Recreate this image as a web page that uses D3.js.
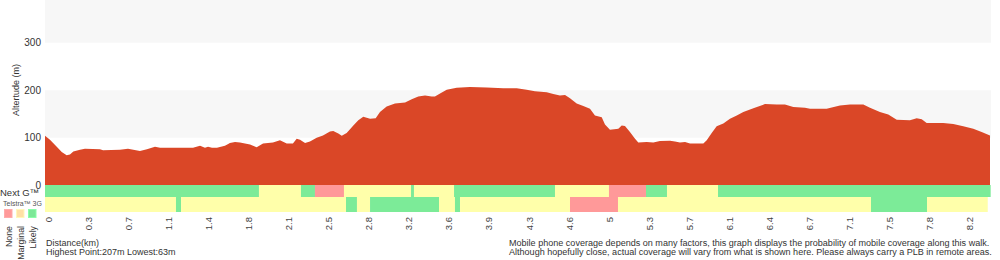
<!DOCTYPE html>
<html><head><meta charset="utf-8">
<script src="https://cdn.jsdelivr.net/npm/d3@7"></script>
<style>body{margin:0;background:#fff}svg{display:block}text{font-family:"Liberation Sans",Arial,sans-serif}</style>
</head><body><svg id="c" width="1000" height="260"></svg>
<script>
// ---- data ----
const totalKm = 8.37;
const distKm = [0,0.044,0.104,0.148,0.192,0.221,0.251,0.310,0.354,0.487,0.514,0.664,0.735,0.841,0.903,0.974,1.019,1.134,1.311,1.373,1.417,1.444,1.479,1.523,1.594,1.638,1.683,1.727,1.816,1.875,1.931,2.019,2.081,2.141,2.196,2.229,2.259,2.303,2.347,2.406,2.462,2.524,2.553,2.598,2.628,2.672,2.731,2.775,2.819,2.879,2.929,2.967,3.026,3.100,3.189,3.248,3.306,3.366,3.425,3.454,3.499,3.558,3.646,3.764,3.912,4.059,4.178,4.266,4.340,4.444,4.502,4.561,4.606,4.650,4.709,4.768,4.827,4.871,4.931,4.960,5.004,5.078,5.108,5.137,5.181,5.226,5.255,5.329,5.388,5.447,5.536,5.580,5.624,5.669,5.713,5.831,5.861,5.905,5.949,6.008,6.067,6.127,6.185,6.274,6.377,6.481,6.554,6.628,6.731,6.776,6.923,7.041,7.130,7.248,7.307,7.395,7.469,7.544,7.661,7.721,7.765,7.809,7.898,7.956,8.045,8.133,8.222,8.296,8.370];
const altitudeM = [104,96,81,70,63,65,71,75,77,76,74,75,77,72,76,81,79,79,79,83,79,81,79,79,83,89,91,90,86,80,88,90,95,88,88,98,96,89,92,100,105,113,114,109,104,110,126,137,144,140,141,154,166,172,174,181,187,189,187,187,193,201,205,207,206,204,204,201,198,196,192,189,190,183,172,167,161,147,143,128,117,119,126,125,112,98,90,91,90,93,94,92,90,91,88,88,95,110,124,130,140,147,154,162,171,170,170,165,163,161,161,168,170,170,163,154,149,138,137,141,139,131,131,131,129,124,119,112,105];
const yTicks = [0,100,200,300];
const xTickLabels = ["0","0.3","0.7","1.1","1.4","1.8","2.1","2.5","2.8","3.2","3.6","3.9","4.3","4.6","5","5.3","5.7","6.1","6.4","6.7","7.1","7.5","7.8","8.2"];
const xTickFirstKm = 0.03, xTickStepKm = 0.3549;
const nextGEnds   = [1.895,2.267,2.391,2.648,3.242,3.268,3.623,4.517,4.995,5.323,5.509,5.961,8.376];
const nextGLevels = ["likely","marginal","likely","none","marginal","likely","marginal","likely","marginal","none","likely","marginal","likely"];
const g3Ends   = [1.160,1.205,2.666,2.763,2.879,3.490,3.631,3.676,4.650,5.075,7.316,7.812,8.350];
const g3Levels = ["marginal","likely","marginal","likely","marginal","likely","marginal","likely","marginal","none","marginal","likely","marginal"];
const legendNames = ["None","Marginal","Likely"];

// ---- chart ----
const svg = d3.select("#c");
const L = 45, R = 991, Y0 = 185.3;
const x = d3.scaleLinear().domain([0,totalKm]).range([L,990]);
const y = d3.scaleLinear().domain([0,400]).range([Y0,-4.8]);
const barColor = {none:"#ff9999",marginal:"#ffffaa",likely:"#7ceb98"};
const legendColor = {None:"#ff9a9a",Marginal:"#ffe0a6",Likely:"#7ce898"};

// bands
[100,300].forEach(v=>{
  svg.append("rect").attr("x",L).attr("width",R-L)
    .attr("y",Math.max(0,y(v+100))).attr("height",y(v)-Math.max(0,y(v+100))).attr("fill","#f7f7f7");
});

// area
const pts = distKm.map((d,i)=>[d,altitudeM[i]]);
svg.append("path").datum(pts)
  .attr("d",d3.area().x(d=>x(d[0])).y0(y(0)).y1(d=>y(d[1])).curve(d3.curveLinear))
  .attr("fill","#da4727");

// y axis labels
svg.append("g").selectAll("text").data(yTicks).join("text")
  .attr("x",41).attr("y",d=>y(d)).attr("dy","0.35em").attr("text-anchor","end")
  .attr("font-size",10).attr("fill","#333").text(d=>d);
svg.append("text").attr("transform","translate(19,90) rotate(-90)").attr("text-anchor","middle")
  .attr("font-size",9).attr("fill","#333").text("Altertude (m)");

// coverage rows
function row(ends, levels, y0, h){
  const segs = ends.map((e,i)=>({s:i?ends[i-1]:0,e,l:levels[i]}));
  svg.append("g").selectAll("rect").data(segs).join("rect")
    .attr("x",d=>x(d.s)).attr("width",d=>x(d.e)-x(d.s))
    .attr("y",y0).attr("height",h).attr("fill",d=>barColor[d.l]);
}
row(nextGEnds,nextGLevels,185,12);
row(g3Ends,g3Levels,197,15);

// x tick labels
svg.append("g").selectAll("text").data(xTickLabels).join("text")
  .attr("transform",(d,i)=>`translate(${x(xTickFirstKm+i*xTickStepKm)},217) rotate(-90)`)
  .attr("dy","0.35em").attr("text-anchor","end").attr("font-size",9.5).attr("fill","#444").text(d=>d);

// legend
svg.append("text").attr("x",0).attr("y",196).attr("font-size",9.5).attr("fill","#333").text("Next G™");
svg.append("text").attr("x",3).attr("y",206).attr("font-size",7).attr("fill","#555").text("Telstra™ 3G");
svg.append("g").selectAll("rect").data(legendNames).join("rect")
  .attr("x",(d,i)=>4.5+i*12).attr("y",209.5).attr("width",7.5).attr("height",8)
  .attr("fill",d=>legendColor[d]).attr("stroke",d=>d3.color(legendColor[d]).brighter(0.3)).attr("stroke-width",1);
svg.append("g").selectAll("text").data(legendNames).join("text")
  .attr("transform",(d,i)=>`translate(${8.5+i*12},226) rotate(-90)`).attr("dy","0.35em")
  .attr("text-anchor","end").attr("font-size",8.8).attr("fill","#333").text(d=>d);

// footer
svg.append("text").attr("x",46).attr("y",246).attr("font-size",9).attr("fill","#333").text("Distance(km)");
svg.append("text").attr("x",46).attr("y",255).attr("font-size",9).attr("fill","#333").text("Highest Point:207m Lowest:63m");
svg.append("text").attr("x",509).attr("y",246).attr("font-size",9.05).attr("fill","#333")
  .text("Mobile phone coverage depends on many factors, this graph displays the probability of mobile coverage along this walk.");
svg.append("text").attr("x",509).attr("y",255).attr("font-size",9.05).attr("fill","#333")
  .text("Although hopefully close, actual coverage will vary from what is shown here. Please always carry a PLB in remote areas.");
</script></body></html>
